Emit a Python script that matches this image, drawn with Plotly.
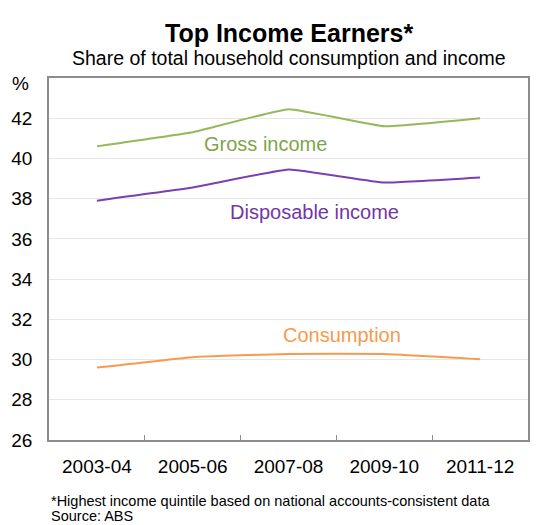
import plotly.graph_objects as go

# Financial years (biennial survey points)
years = ["2003-04", "2005-06", "2007-08", "2009-10", "2011-12"]

# Share of total household income / consumption held by the top quintile (%)
gross_income = [40.6, 41.3, 42.45, 41.6, 42.0]
disposable_income = [37.9, 38.55, 39.45, 38.8, 39.05]
consumption = [29.6, 30.12, 30.28, 30.28, 30.02]

y_ticks = [26, 28, 30, 32, 34, 36, 38, 40, 42]

GREEN = "#94B85A"
PURPLE = "#7B3FB3"
ORANGE = "#F79A4E"
FONT = "Arial, Liberation Sans, sans-serif"

x_idx = list(range(len(years)))

fig = go.Figure()
series = [
    (gross_income, GREEN, "Gross income"),
    (disposable_income, PURPLE, "Disposable income"),
    (consumption, ORANGE, "Consumption"),
]
for vals, col, name in series:
    fig.add_trace(go.Scatter(
        x=x_idx, y=vals, mode="lines", name=name,
        line=dict(color=col, width=2, shape="spline", smoothing=0.3),
        showlegend=False, hoverinfo="skip",
    ))

# Inline series labels
fig.add_annotation(x=1.764, y=40.72, text="Gross income", showarrow=False,
                   yanchor="middle",
                   font=dict(family=FONT, size=20, color="#7FA548"))
fig.add_annotation(x=2.273, y=37.34, text="Disposable income", showarrow=False,
                   yanchor="middle",
                   font=dict(family=FONT, size=20, color="#7236A8"))
fig.add_annotation(x=2.558, y=31.22, text="Consumption", showarrow=False,
                   yanchor="middle",
                   font=dict(family=FONT, size=20, color="#F79A4E"))

# Title, subtitle, unit and footnotes
fig.add_annotation(xref="paper", yref="paper", x=0.5, y=1.0, yshift=45,
                   yanchor="middle", xanchor="center", borderpad=0,
                   text="<b>Top Income Earners*</b>", showarrow=False,
                   font=dict(family=FONT, size=25, color="#000000"))
fig.add_annotation(xref="paper", yref="paper", x=0.5, y=1.0, yshift=20,
                   yanchor="middle", xanchor="center", borderpad=0,
                   text="Share of total household consumption and income",
                   showarrow=False, font=dict(family=FONT, size=19.5, color="#000000"))
fig.add_annotation(xref="paper", yref="paper", x=0, y=1.0, xshift=-29, yshift=-5,
                   text="%", showarrow=False, xanchor="center", yanchor="middle",
                   font=dict(family=FONT, size=19, color="#000000"))
fig.add_annotation(xref="paper", yref="paper", x=0, y=0, xshift=1, yshift=-61,
                   xanchor="left", yanchor="middle", align="left", borderpad=0,
                   text="*Highest income quintile based on national accounts-consistent data",
                   showarrow=False,
                   font=dict(family=FONT, size=14.5, color="#000000"))
fig.add_annotation(xref="paper", yref="paper", x=0, y=0, xshift=1, yshift=-76,
                   xanchor="left", yanchor="middle", align="left", borderpad=0,
                   text="Source: ABS",
                   showarrow=False,
                   font=dict(family=FONT, size=14.5, color="#000000"))

fig.update_layout(
    width=540, height=525,
    margin=dict(l=49, r=10, t=78, b=85),
    paper_bgcolor="white", plot_bgcolor="white",
    font=dict(family=FONT, size=19, color="#000000"),
    xaxis=dict(
        range=[-0.5, 4.5], tickmode="array", tickvals=x_idx, ticktext=years,
        ticks="", showgrid=False, zeroline=False,
        showline=True, linecolor="#8C8C8C", linewidth=1.5, mirror=True,
        ticklabelstandoff=8,
        tickfont=dict(family=FONT, size=19, color="#000000"),
        minor=dict(tickmode="array", tickvals=[0.5, 1.5, 2.5, 3.5],
                   ticks="inside", ticklen=5, tickcolor="#8C8C8C",
                   tickwidth=1.2, showgrid=False),
        fixedrange=True,
    ),
    yaxis=dict(
        range=[26, 44], tickmode="array", tickvals=y_ticks,
        ticks="", showgrid=True, gridcolor="#E6E6E6", gridwidth=1.2,
        zeroline=False, showline=True, linecolor="#8C8C8C", linewidth=1.5,
        mirror=True, ticklabelstandoff=11,
        tickfont=dict(family=FONT, size=19, color="#000000"),
        fixedrange=True,
    ),
)

fig.write_html("out.html")
